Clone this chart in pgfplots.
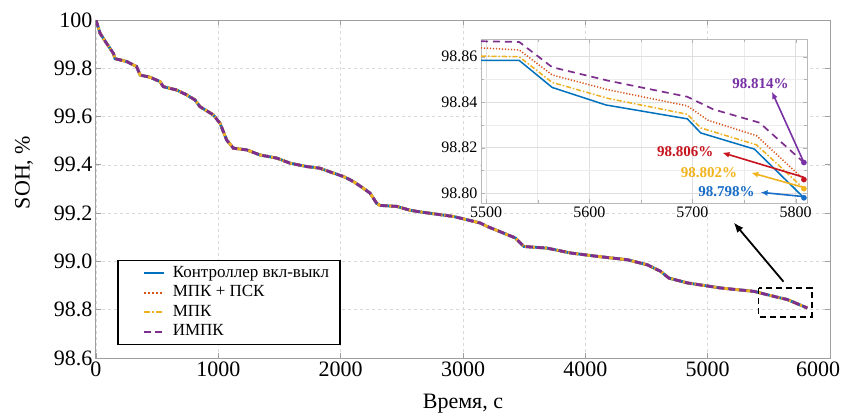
\documentclass[border=0pt]{standalone}
\usepackage{fontspec}
\setmainfont{Liberation Serif}
\usepackage{pgfplots}
\usepackage{pgfplotstable}
\pgfplotsset{compat=1.18}
\usetikzlibrary{arrows.meta}

\definecolor{cblue}{RGB}{0,114,189}
\definecolor{cred}{RGB}{217,83,25}
\definecolor{cyellow}{RGB}{237,177,32}
\definecolor{cpurple}{RGB}{126,47,142}
\definecolor{tpurple}{RGB}{120,50,165}
\definecolor{tred}{RGB}{200,20,30}
\definecolor{tyellow}{RGB}{242,180,30}
\definecolor{tblue}{RGB}{25,110,200}

\pgfplotstableread{
t soh
0 100
33 99.945
87 99.903
142 99.862
155 99.84
251 99.828
332 99.807
360 99.772
441 99.763
523 99.745
550 99.724
659 99.71
741 99.69
809 99.669
850 99.641
959 99.607
1014 99.572
1068 99.503
1123 99.469
1232 99.462
1341 99.441
1477 99.428
1586 99.407
1722 99.393
1831 99.386
1940 99.366
2022 99.352
2104 99.331
2185 99.303
2240 99.283
2294 99.241
2322 99.232
2458 99.228
2567 99.212
2651 99.205
2924 99.186
3142 99.159
3197 99.145
3333 99.117
3429 99.097
3497 99.062
3689 99.055
3879 99.035
4097 99.021
4343 99.007
4507 98.986
4615 98.959
4683 98.931
4834 98.911
5106 98.890
5379 98.876
5543 98.855
5652 98.842
5815 98.807
}\maindata

\pgfplotstableread{
t y
5495 98.8584
5532 98.8584
5564 98.8465
5616 98.8388
5695 98.8327
5708 98.8265
5760 98.8194
5808 98.798
}\insblue

\pgfplotstableread{
t y
5495 98.8639
5532 98.8630
5564 98.8520
5618 98.8455
5695 98.8384
5715 98.8321
5762 98.8253
5808 98.806
}\insred

\pgfplotstableread{
t y
5495 98.8603
5532 98.8600
5564 98.8487
5618 98.8417
5695 98.8347
5708 98.8287
5762 98.8213
5808 98.802
}\insyellow

\pgfplotstableread{
t y
5495 98.8668
5532 98.8665
5564 98.8554
5618 98.8495
5695 98.8424
5720 98.8369
5765 98.8310
5808 98.8135
}\inspurple

\begin{document}
\begin{tikzpicture}
\useasboundingbox (-96pt,-58pt) rectangle (745pt,358pt);
\begin{axis}[
  at={(0pt,0pt)}, anchor=south west,
  scale only axis, width=734pt, height=338pt,
  xmin=0, xmax=6000, ymin=98.6, ymax=100,
  xtick={0,1000,2000,3000,4000,5000,6000},
  xticklabels={0,1000,2000,3000,4000,5000,{\makebox[44pt][c]{\kern-24pt 6000}}},
  ytick={98.6,98.8,99.0,99.2,99.4,99.6,99.8,100},
  yticklabels={98.6,98.8,99.0,99.2,99.4,99.6,99.8,100},
  /pgf/number format/assume math mode=true,
  /pgf/number format/1000 sep={},
  scaled ticks=false,
  tick label style={font=\fontsize{22}{26}\selectfont, black},
  label style={font=\fontsize{22}{26}\selectfont},
  xlabel={Время, с}, ylabel={SOH, \%},
  xlabel style={at={(axis description cs:0.5,-0.135)}, anchor=center},
  ylabel style={at={(axis description cs:-0.098,0.549)}, anchor=center},
  grid=major, major grid style={dashed, gray!30, line width=0.6pt},
  axis line style={gray!75, line width=1pt},
  tick style={gray!75, line width=0.8pt},
  tick align=inside, major tick length=5pt,
  legend style={at={(axis description cs:0.0286,0.038)}, anchor=south west,
    draw=black, line width=1.6pt, fill=white, inner xsep=8pt, inner ysep=3pt,
    font=\fontsize{17}{19}\selectfont, row sep=0pt,
    nodes={text height=12pt, text depth=4pt, inner ysep=1.75pt, inner xsep=3pt}},
  legend cell align=left,
  legend image code/.code={\path[draw=none,fill=none] (0pt,0pt) -- (44pt,0pt); \draw[#1, line width=1.8pt] (18pt,0pt) -- (38pt,0pt);},
]
\addplot[cblue, line width=2.8pt] table[x=t,y=soh] {\maindata};
\addlegendentry{Контроллер вкл-выкл}
\addplot[cred, line width=2.8pt, dash pattern=on 2pt off 2pt] table[x=t,y=soh] {\maindata};
\addlegendentry{МПК + ПСК}
\addplot[cyellow, line width=2.8pt, dash pattern=on 6pt off 2pt on 2pt off 2pt] table[x=t,y=soh] {\maindata};
\addlegendentry{МПК}
\addplot[cpurple, line width=2.8pt, dash pattern=on 7pt off 4pt] table[x=t,y=soh] {\maindata};
\addlegendentry{ИМПК}
\draw[black, line width=1.8pt, dash pattern=on 6pt off 4pt] (axis cs:5416,98.889) rectangle (axis cs:5850,98.771);
\draw[-{Latex[length=10pt,width=8pt]}, line width=1.8pt, black] (axis cs:5620,98.916) -- (axis cs:5213,99.161);
\end{axis}

\begin{axis}[
  at={(385pt,155pt)}, anchor=south west,
  scale only axis, width=326pt, height=164pt,
  xmin=5495, xmax=5811, ymin=98.7957, ymax=98.8678,
  xtick={5500,5600,5700,5800}, ytick={98.80,98.82,98.84,98.86},
  minor x tick num=1, minor y tick num=1,
  /pgf/number format/assume math mode=true,
  /pgf/number format/1000 sep={},
  scaled ticks=false,
  yticklabel={\pgfmathprintnumber[fixed,fixed zerofill,precision=2]{\tick}},
  tick label style={font=\fontsize{16}{19}\selectfont, black},
  grid=both, major grid style={gray!25, line width=0.5pt}, minor grid style={gray!15, line width=0.5pt},
  axis background/.style={fill=white},
  axis line style={gray!55, line width=0.8pt},
  tick style={gray!60}, tick align=inside,
  clip=false,
]
\addplot[cblue, line width=1.5pt] table[x=t,y=y] {\insblue};
\addplot[cyellow, line width=1.5pt, dash pattern=on 5pt off 2pt on 1.5pt off 2pt] table[x=t,y=y] {\insyellow};
\addplot[cred, line width=1.5pt, dash pattern=on 1.2pt off 1.8pt] table[x=t,y=y] {\insred};
\addplot[cpurple, line width=1.7pt, dash pattern=on 7pt off 5pt] table[x=t,y=y] {\inspurple};
\addplot[only marks, mark=*, mark size=2.6pt, tblue] coordinates {(5808,98.798)};
\addplot[only marks, mark=*, mark size=2.6pt, tyellow] coordinates {(5808,98.802)};
\addplot[only marks, mark=*, mark size=2.6pt, tred] coordinates {(5808,98.806)};
\addplot[only marks, mark=*, mark size=2.6pt, tpurple] coordinates {(5808,98.8135)};
\draw[-{Latex[length=7pt,width=6pt]}, line width=1.6pt, tpurple] (axis cs:5808,98.8135) -- (axis cs:5777,98.8446);
\draw[-{Latex[length=7pt,width=6pt]}, line width=1.6pt, tred] (axis cs:5808,98.807) -- (axis cs:5729,98.8178);
\draw[-{Latex[length=7pt,width=6pt]}, line width=1.6pt, tyellow] (axis cs:5808,98.8025) -- (axis cs:5757,98.809);
\draw[-{Latex[length=7pt,width=6pt]}, line width=1.6pt, tblue] (axis cs:5808,98.7985) -- (axis cs:5766,98.8004);
\node[text=tpurple, font=\bfseries\fontsize{15}{18}\selectfont] at (axis cs:5766,98.8484) {98.814\%};
\node[text=tred, font=\bfseries\fontsize{15}{18}\selectfont] at (axis cs:5693,98.8183) {98.806\%};
\node[text=tyellow, font=\bfseries\fontsize{15}{18}\selectfont] at (axis cs:5716,98.809) {98.802\%};
\node[text=tblue, font=\bfseries\fontsize{15}{18}\selectfont] at (axis cs:5733,98.8007) {98.798\%};
\end{axis}
\end{tikzpicture}
\end{document}
